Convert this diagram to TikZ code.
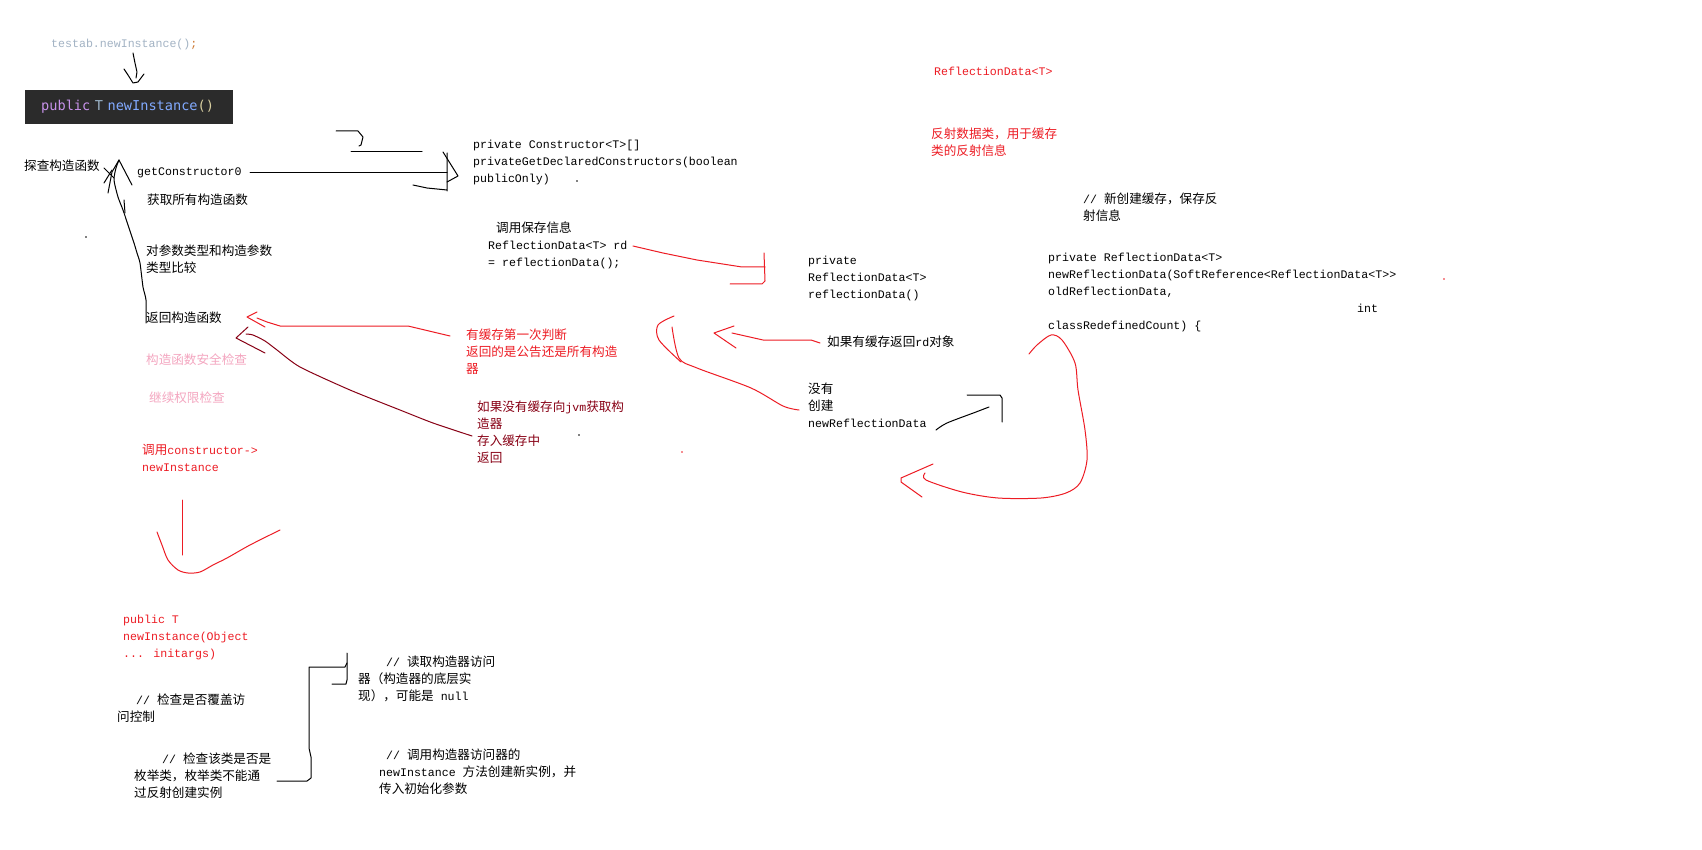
\documentclass[tikz,border=0pt]{standalone}
\usepackage{fontspec}
\setmainfont{Liberation Mono}
\newfontfamily\cjk[Scale=1.086]{Noto Sans CJK SC}
\newfontfamily\ide{DejaVu Sans Mono}
\usetikzlibrary{positioning}
\definecolor{paintred}{HTML}{ED1C24}
\definecolor{darkred}{HTML}{880015}
\definecolor{softpink}{HTML}{F4A6C0}
\definecolor{idebg}{HTML}{2B2B2B}
\definecolor{idegray}{HTML}{A3B3C4}
\definecolor{ideorange}{HTML}{CC7832}
\definecolor{idekw}{HTML}{C792EA}
\definecolor{idetype}{HTML}{9CB4C8}
\definecolor{idefn}{HTML}{82AAFF}
\definecolor{ideparen}{HTML}{D9CFA0}
\newcommand{\zh}[1]{{\cjk #1}}

\begin{document}
\begin{tikzpicture}[
  x=1pt, y=-1pt,
  txt/.style={anchor=base west, inner sep=0pt, align=left, font=\fontsize{11.6}{17}\selectfont},
  ibox/.style={fill=idebg, anchor=north west, minimum height=34pt, text width=180pt, inner xsep=14pt, inner ysep=0pt, align=left, font=\ide\fontsize{13.6}{15}\selectfont},
  pen/.style={line width=1pt, line cap=round, line join=round},
  redpen/.style={pen, draw=paintred},
  darkpen/.style={pen, draw=darkred}
]
  \fill[white] (0,0) rectangle (1702,850);
  \useasboundingbox (0,0) rectangle (1702,850);

  \node[txt, text=idegray] (testab) at (51,47.5) {testab.newInstance()\textcolor{ideorange}{;}};
  \node[ibox] (sig) at (25,90) {\hspace*{2pt}\textcolor{idekw}{public} \textcolor{idetype}{T} \textcolor{idefn}{newInstance}\textcolor{ideparen}{()}};
  \node[txt] (probe) at (24,170.5) {\zh{探查构造函数}};
  \node[txt] (getc) at (137,175.5) {getConstructor0};
  \node[txt] (privget) at (473,182.5) {private Constructor<T>[]\\privateGetDeclaredConstructors(boolean\\publicOnly)};
  \node[txt] (fetchall) at (147,204.5) {\zh{获取所有构造函数}};
  \node[txt] (compare) at (146,272.5) {\zh{对参数类型和构造参数}\\\zh{类型比较}};
  \node[txt] (retctor) at (146,322.5) {\zh{返回构造函数}};
  \node[txt, text=softpink] (safety) at (146,364.5) {\zh{构造函数安全检查}};
  \node[txt, text=softpink] (perm) at (149,402.5) {\zh{继续权限检查}};
  \node[txt, text=paintred] (callnew) at (142,471.5) {\zh{调用}constructor->\\newInstance};
  \node[txt] (saveinfo) at (488,266.5) {\hspace*{8pt}\zh{调用保存信息}\\ReflectionData<T> rd\\= reflectionData();};
  \node[txt] (rdmethod) at (808,298.5) {private\\ReflectionData<T>\\reflectionData()};
  \node[txt, text=paintred] (cachefirst) at (466,373.5) {\zh{有缓存第一次判断}\\\zh{返回的是公告还是所有构造}\\\zh{器}};
  \node[txt, text=darkred] (nocache) at (477,462.5) {\zh{如果没有缓存向}jvm\zh{获取构}\\\zh{造器}\\\zh{存入缓存中}\\\zh{返回}};
  \node[txt] (hascache) at (827,346.5) {\zh{如果有缓存返回}rd\zh{对象}};
  \node[txt] (create) at (808,427.5) {\zh{没有}\\\zh{创建}\\newReflectionData};
  \node[txt, text=paintred] (rdtitle) at (934,76) {ReflectionData<T>};
  \node[txt, text=paintred] (rddesc) at (931,155.5) {\zh{反射数据类，用于缓存}\\\zh{类的反射信息}};
  \node[txt] (newcache) at (1083,220.5) {// \zh{新创建缓存，保存反}\\\zh{射信息}};
  \node[txt] (newrd) at (1048,329) {private ReflectionData<T>\\newReflectionData(SoftReference<ReflectionData<T>{}>\\oldReflectionData,\\\hspace*{309pt}int\\classRedefinedCount) \{};
  \node[txt, text=paintred] (pubnew) at (123,657.5) {public T\\newInstance(Object\\... initargs)};
  \node[txt] (override) at (117,721.5) {\hspace*{19pt}// \zh{检查是否覆盖访}\\\zh{问控制}};
  \node[txt] (enumchk) at (134,797.5) {\hspace*{28pt}// \zh{检查该类是否是}\\\zh{枚举类，枚举类不能通}\\\zh{过反射创建实例}};
  \node[txt] (accessor) at (358,700.5) {\hspace*{28pt}// \zh{读取构造器访问}\\\zh{器（构造器的底层实}\\\zh{现），可能是} null};
  \node[txt] (invoke) at (379,793.5) {\hspace*{7pt}// \zh{调用构造器访问器的}\\newInstance \zh{方法创建新实例，并}\\\zh{传入初始化参数}};

  \draw[pen] (133,53) -- (135,63) -- (137,72) -- (136,78);
  \draw[pen] (124,69) -- (128,75) -- (133,83) -- (138,82) -- (144,74);
  \draw[pen] plot[smooth, tension=0.4] coordinates {(146,323) (146,300) (143,287) (140,263) (137,253) (134,243) (128,225) (123,210) (118,197) (114,180) (116,168) (119,160)};
  \draw[pen] (132,185) -- (119,160) -- (112,172) -- (108,193);
  \draw[pen] (104,168) -- (114,178) (112,170) -- (104,183) (124,200) -- (125,213);
  \draw[pen] (250,173) -- (447,173);
  \draw[pen] (447,153) -- (447,191) (413,185) -- (427,188) -- (447,190);
  \draw[pen] (443,152) -- (458,176) -- (447,182);
  \draw[pen] (351,152) -- (422,152);
  \draw[pen] (336,131) -- (358,131) -- (363,137) -- (361,145) -- (359,146);
  \draw[redpen] (633,246) -- (663,253) -- (697,260) -- (742,267) -- (765,267);
  \draw[redpen] (730,284) -- (762,284) -- (765,281) -- (764,253);
  \draw[redpen] (257,312) -- (247,317) -- (265,327);
  \draw[redpen] (257,318) -- (267,322) -- (280,326) -- (408,326) -- (450,336);
  \draw[darkpen] (248,327) -- (236,338) -- (265,353);
  \draw[darkpen] plot[smooth, tension=0.4] coordinates {(246,334) (253,335) (265,341) (277,350) (300,367) (350,390) (400,410) (433,423) (472,436)};
  \draw[redpen] (734,326) -- (714,333) -- (736,348);
  \draw[redpen] (732,333) -- (763,340) -- (811,340) -- (820,343);
  \draw[redpen] plot[smooth, tension=0.5] coordinates {(799,410) (783,406) (751,388) (697,368) (679,358) (672,327)};
  \draw[redpen] plot[smooth, tension=0.5] coordinates {(674,316) (658,325) (659,340) (681,362)};
  \draw[pen] plot[smooth, tension=0.5] coordinates {(936,430) (947,423) (976,412) (989,407)};
  \draw[pen] (967,395) -- (1000,395) -- (1002,398) -- (1002,422);
  \draw[redpen] plot[smooth, tension=0.5] coordinates {(1029,354) (1037,345) (1051,335) (1062,340) (1075,363) (1078,390) (1085,430) (1087,460) (1080,483) (1066,493) (1041,498) (998,498) (962,492) (926,480) (925,473)};
  \draw[redpen] (933,464) -- (901,478) -- (901,482) -- (922,497);
  \draw[redpen] (182,500) -- (182,555);
  \draw[redpen] plot[smooth, tension=0.5] coordinates {(157,532) (162,545) (168,560) (178,570) (188,573) (200,572) (213,565) (227,558) (250,545) (280,530)};
  \draw[pen] (277,781) -- (307,781) -- (311,778) -- (311,757) -- (309,748) -- (309,667) -- (345,667) -- (347,663);
  \draw[pen] (347,653) -- (347,680) -- (346,684) -- (332,684);

  \fill (86,237) circle (0.8pt) (577,181) circle (0.8pt) (579,435) circle (0.8pt);
  \fill[paintred] (682,452) circle (0.8pt) (1444,279) circle (0.8pt);
\end{tikzpicture}
\end{document}
